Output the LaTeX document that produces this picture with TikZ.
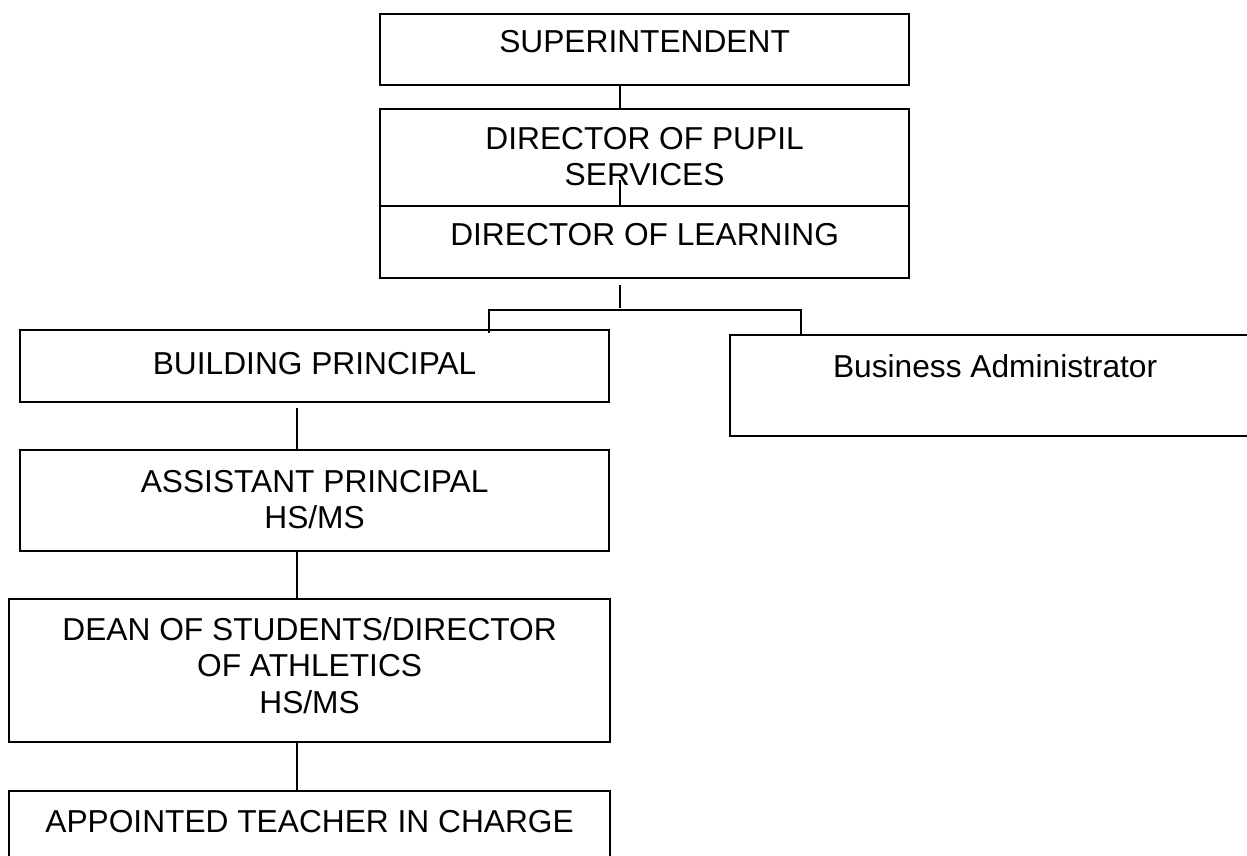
\documentclass[tikz,border=0pt]{standalone}
\usepackage{fontspec}
\setmainfont{Liberation Sans}
\usetikzlibrary{positioning}

\begin{document}
\begin{tikzpicture}[x=1pt,y=-1pt,
  cargo/.style={draw, line width=2.2pt, rectangle, inner sep=0pt, anchor=north west},
  rotulo/.style={inner sep=0pt, align=center, font=\fontsize{31.7}{36.5}\selectfont},
  ligacao/.style={line width=2.2pt}]

% Moldura da figura
\useasboundingbox (0,0) rectangle (1247,855);
\clip (0,0) rectangle (1247,855);

% Caixas
\node[cargo, minimum width=529pt, minimum height=71pt] (sup) at (379,13) {};
\node[cargo, minimum width=529pt, minimum height=97pt] (dps) at (379,108) {};
\node[cargo, minimum width=529pt, minimum height=72pt] (dol) at (379,205) {};
\node[cargo, minimum width=589pt, minimum height=72pt] (bp) at (19,329) {};
\node[cargo, minimum width=530pt, minimum height=101pt] (ba) at (729,334) {};
\node[cargo, minimum width=589pt, minimum height=101pt] (ap) at (19,449) {};
\node[cargo, minimum width=601pt, minimum height=143pt] (dean) at (8,598) {};
\node[cargo, minimum width=601pt, minimum height=100pt] (app) at (8,790) {};

% Textos
\node[rotulo, below=17pt of sup.north] (sup-t) {SUPERINTENDENT};
\node[rotulo, below=19pt of dps.north] (dps-t) {DIRECTOR OF PUPIL\\SERVICES};
\node[rotulo, below=18pt of dol.north] (dol-t) {DIRECTOR OF LEARNING};
\node[rotulo, below=23pt of bp.north] (bp-t) {BUILDING PRINCIPAL};
\node[rotulo, below=20pt of ba.north] (ba-t) {Business Administrator};
\node[rotulo, below=21pt of ap.north] (ap-t) {ASSISTANT PRINCIPAL\\HS/MS};
\node[rotulo, below=19pt of dean.north] (dean-t) {DEAN OF STUDENTS/DIRECTOR\\OF ATHLETICS\\HS/MS};
\node[rotulo, below=20pt of app.north] (app-t) {APPOINTED TEACHER IN CHARGE};

% Eixos das ligacoes
\coordinate (eixo) at (620,0);
\coordinate (toco) at (620,180);
\coordinate (ramo) at (489,310);
\coordinate (ramo2) at (801,310);
\coordinate (coluna) at (297,0);

% Ligacoes do topo
\draw[ligacao] (sup.south -| eixo) -- (dps.north -| eixo);
\draw[ligacao] (dps.south -| eixo) -- (toco);
\draw[ligacao] (dol.south -| eixo) ++(0,6) -- ++(0,23);

% Ramificacao
\draw[ligacao] (bp.north -| ramo) ++(0,4) -- (ramo) -- (ramo2) -- (ba.north -| ramo2);

% Coluna da esquerda
\draw[ligacao] (bp.south -| coluna) ++(0,5) -- (ap.north -| coluna);
\draw[ligacao] (ap.south -| coluna) -- (dean.north -| coluna);
\draw[ligacao] (dean.south -| coluna) -- (app.north -| coluna);

\end{tikzpicture}
\end{document}
